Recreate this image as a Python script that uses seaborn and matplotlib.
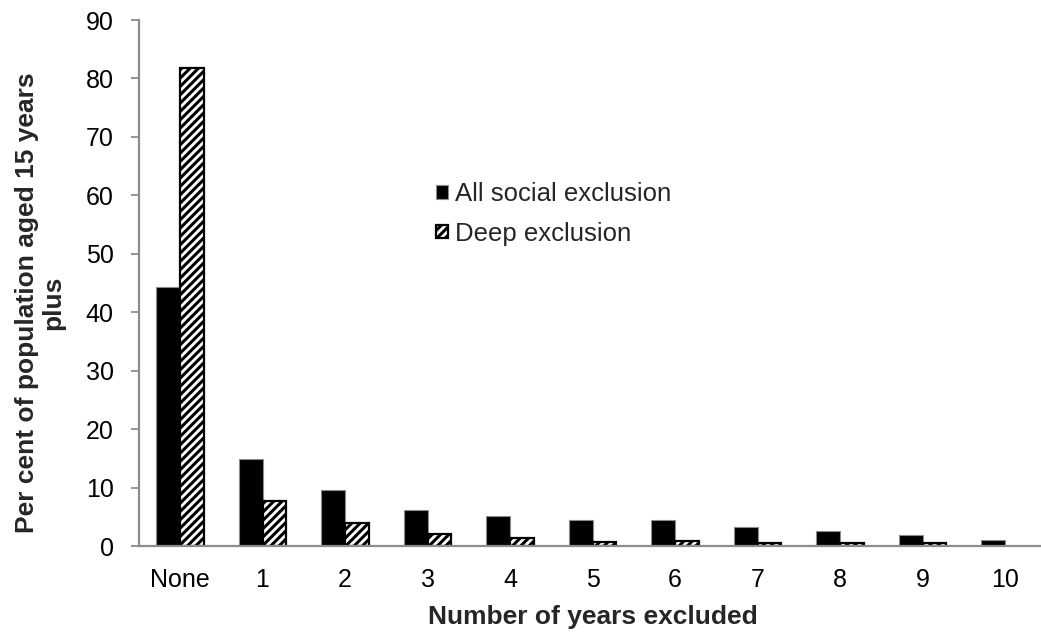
import matplotlib
matplotlib.use("Agg")
import matplotlib.pyplot as plt
import seaborn as sns
import pandas as pd
import numpy as np

categories = ["None", "1", "2", "3", "4", "5", "6", "7", "8", "9", "10"]
all_social = [44.4, 14.9, 9.5, 6.1, 5.1, 4.4, 4.5, 3.2, 2.5, 1.8, 1.1]
deep = [81.8, 7.7, 4.0, 2.0, 1.3, 0.6, 0.8, 0.45, 0.45, 0.45, 0.0]
series_names = ["All social exclusion", "Deep exclusion"]

sns.set_theme(style="white")
plt.rcParams["font.family"] = ["Liberation Sans", "DejaVu Sans"]
plt.rcParams["hatch.linewidth"] = 2.2
plt.rcParams["hatch.color"] = "black"

df = pd.DataFrame({
    "years": categories * 2,
    "value": all_social + deep,
    "series": [series_names[0]] * len(categories) + [series_names[1]] * len(categories),
})

W, H = 1041, 635
fig = plt.figure(figsize=(W / 100, H / 100), dpi=100)
ax_left, ax_right, ax_top, ax_bottom = 138.75, 1046.25, 20, 546
ax = fig.add_axes([ax_left / W, 1 - ax_bottom / H,
                   (ax_right - ax_left) / W, (ax_bottom - ax_top) / H])

sns.barplot(data=df, x="years", y="value", hue="series", order=categories,
            hue_order=series_names, palette=["black", "white"],
            width=0.58, gap=0, saturation=1, ax=ax, legend=False)

# solid bars: thin grey outline; second series: hatched white with black edge
for p in ax.containers[0]:
    p.set_edgecolor("#8c8c8c")
    p.set_linewidth(0.8)
for p in ax.containers[1]:
    p.set_facecolor("white")
    p.set_hatch("////")
    p.set_edgecolor("black")
    p.set_linewidth(1.6)
    if p.get_height() == 0:
        p.set_linewidth(0)

grey = "#8c8c8c"
ax.set_ylim(0, 90)
ax.set_yticks(np.arange(0, 91, 10))
ax.set_xlim(-0.5, len(categories) - 0.5)
ax.set_xticks(np.arange(-0.5, len(categories), 1.0), minor=True)
ax.tick_params(axis="x", which="major", length=0, labelsize=18, pad=16, labelcolor="black")
ax.tick_params(axis="x", which="minor", length=6, width=1.3, color=grey, direction="out")
ax.tick_params(axis="y", which="major", length=6, width=1.3, color=grey,
               direction="out", labelsize=18, pad=12, left=True, labelcolor="black")

for side in ["top", "right"]:
    ax.spines[side].set_visible(False)
for side in ["left", "bottom"]:
    ax.spines[side].set_color(grey)
    ax.spines[side].set_linewidth(1.6)

ax.set_xlabel("Number of years excluded", fontsize=19, fontweight="bold", va="center")
ax.xaxis.set_label_coords(0.5, (ax_bottom - 617) / (ax_bottom - ax_top))
ax.set_ylabel("Per cent of population aged 15 years\nplus", fontsize=19,
              fontweight="bold", va="center", linespacing=1.1)
ax.yaxis.set_label_coords((40 - ax_left) / (ax_right - ax_left),
                          (ax_bottom - 303) / (ax_bottom - ax_top))

ax.legend(handles=[ax.containers[0], ax.containers[1]], labels=series_names,
          loc="center left", bbox_to_anchor=(436 / W, 1 - 214 / H),
          bbox_transform=fig.transFigure, frameon=False, borderpad=0, borderaxespad=0,
          fontsize=18.5, handlelength=0.45, handleheight=0.45, handletextpad=0.3,
          labelspacing=0.6)

fig.savefig("out.png", dpi=100)
